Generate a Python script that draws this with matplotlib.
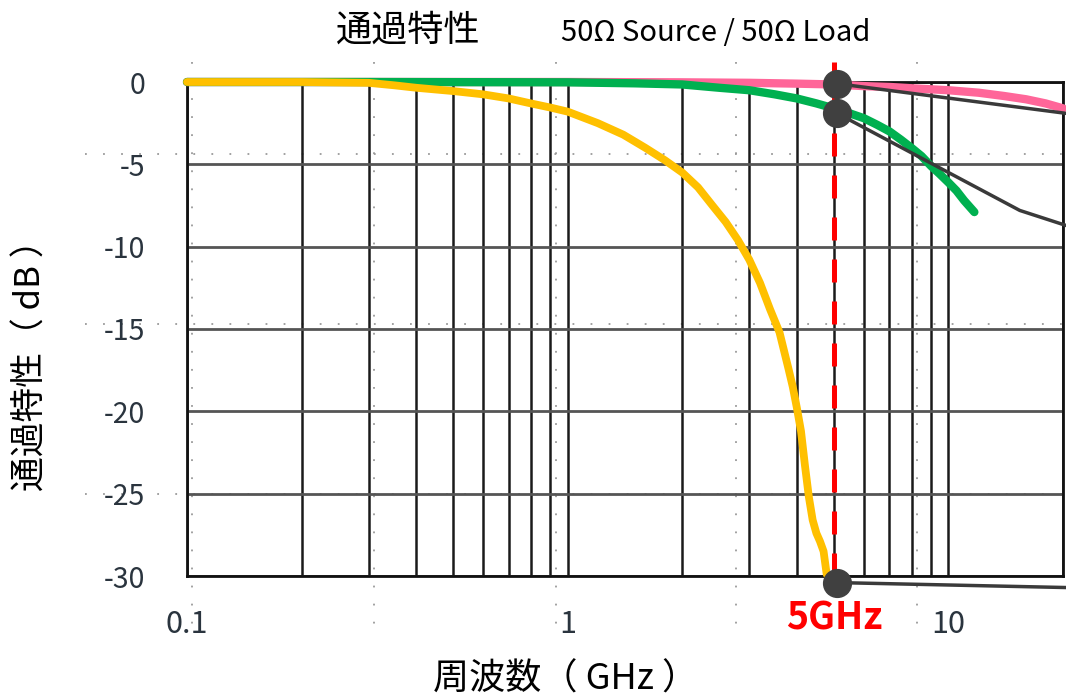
"""Transmission characteristic (S21) of three parts, 50 ohm source / 50 ohm load."""

import matplotlib
matplotlib.use("Agg")
import matplotlib.pyplot as plt
from matplotlib.lines import Line2D
from matplotlib.ticker import FixedLocator, LogLocator, NullFormatter

plt.rcParams["font.family"] = ["Noto Sans CJK JP", "DejaVu Sans"]

# --- data (GHz, dB) ---
yellow_f = [0.1, 0.2, 0.3, 0.35, 0.4, 0.5, 0.6, 0.7, 0.8, 0.9, 1.0, 1.2, 1.4, 1.6,
            1.8, 2.0, 2.2, 2.4, 2.6, 2.8, 3.0, 3.2, 3.4, 3.6, 3.8, 3.9, 4.0, 4.1,
            4.2, 4.3, 4.4, 4.5, 4.6, 4.7, 4.79]
yellow_db = [0.0, 0.0, -0.05, -0.2, -0.35, -0.55, -0.75, -1.0, -1.3, -1.55, -1.8, -2.5,
             -3.2, -4.0, -4.75, -5.5, -6.4, -7.5, -8.5, -9.6, -10.8, -12.2, -13.8, -15.2,
             -17.4, -18.5, -19.8, -21.2, -23.3, -25.2, -26.6, -27.4, -27.9, -28.5, -29.9]

green_f = [0.1, 0.3, 1.0, 1.5, 2.0, 2.5, 3.0, 3.5, 4.0, 4.5, 5.0, 5.5, 6.0, 6.5, 7.0,
           7.5, 8.0, 8.5, 9.0, 9.5, 10.0, 10.5, 11.0, 11.7]
green_db = [0.0, 0.0, -0.02, -0.08, -0.15, -0.35, -0.5, -0.75, -1.0, -1.3, -1.6, -1.9,
            -2.2, -2.6, -3.0, -3.5, -4.0, -4.5, -5.1, -5.6, -6.1, -6.6, -7.2, -7.9]

pink_f = [0.1, 1.0, 2.0, 3.0, 4.0, 5.0, 6.0, 7.0, 8.0, 10.0, 12.0, 14.0, 16.0, 18.0, 20.0]
pink_db = [0.0, 0.0, -0.02, -0.05, -0.1, -0.15, -0.25, -0.3, -0.38, -0.5, -0.65, -0.85,
           -1.05, -1.3, -1.6]

# callout markers at 5 GHz and their leader lines (running off the right edge)
marker_f = [5.1, 5.1, 5.1]
marker_db = [-0.1, -1.9, -30.4]
leader_f = [[5.1, 20.3], [5.1, 15.4, 20.3], [5.1, 20.3]]
leader_db = [[-0.1, -1.9], [-1.9, -7.8, -8.7], [-30.4, -30.7]]

cutoff_ghz = 5.0
yticks = [0, -5, -10, -15, -20, -25, -30]
xticks = [0.1, 1, 10]
xticklabels = ["0.1", "1", "10"]

TICK_INK = "#2a343e"

fig = plt.figure(figsize=(10.66, 6.99), dpi=100)
ax = fig.add_axes([187 / 1066, 1 - 576 / 699, (1063 - 187) / 1066, (576 - 82) / 699])
ax.patch.set_alpha(0)

# faint dotted grid left over from the pasted screenshot underneath
dot_style = dict(color="#9a9a9a", lw=1.3, linestyle=(0, (1, 9)), zorder=-1,
                 transform=fig.transFigure)
for ypx in [154, 324, 494]:
    fig.add_artist(Line2D([85 / 1066, 1], [1 - ypx / 699] * 2, **dot_style))
for xpx in [192, 374, 556, 736, 917]:
    fig.add_artist(Line2D([xpx / 1066] * 2, [1 - 62 / 699, 1 - 636 / 699], **dot_style))

ax.set_xscale("log")
ax.set_xlim(0.1, 20)
ax.set_ylim(-30, 0)

ax.xaxis.set_major_locator(FixedLocator(xticks))
ax.xaxis.set_minor_locator(LogLocator(base=10, subs=range(2, 10)))
ax.xaxis.set_minor_formatter(NullFormatter())
ax.set_xticklabels(xticklabels)
ax.set_yticks(yticks)
ax.set_yticklabels([str(v) for v in yticks])

ax.grid(True, which="both", axis="x", color="#1a1a1a", lw=1.8, zorder=1)
ax.grid(True, which="major", axis="y", color="#555555", lw=2.0, zorder=1)
ax.set_axisbelow(True)
ax.tick_params(which="both", length=0)
ax.tick_params(axis="y", pad=30, labelsize=20.5, labelcolor=TICK_INK)
ax.tick_params(axis="x", pad=24, labelsize=22, labelcolor=TICK_INK)
for spine in ax.spines.values():
    spine.set_linewidth(2.0)
    spine.set_color("#111111")

ax.plot(pink_f, pink_db, color="#FF6699", lw=6, solid_capstyle="round", zorder=3, clip_on=False)
ax.plot(green_f, green_db, color="#00B050", lw=6, solid_capstyle="round", zorder=4, clip_on=False)
ax.plot(yellow_f, yellow_db, color="#FFC000", lw=5.6, solid_capstyle="round", zorder=5, clip_on=False)

ax.plot([cutoff_ghz, cutoff_ghz], [-30, 1.2], color="#FF0000", lw=3.6,
        dashes=(4.6, 3.8), zorder=6, clip_on=False)

for lf, ld in zip(leader_f, leader_db):
    ax.plot(lf, ld, color="#3a3a3a", lw=2.5, zorder=7, clip_on=False)
ax.plot(marker_f, marker_db, "o", ms=20, color="#404040", zorder=8, clip_on=False)

fig.text(834 / 1066, 1 - 618 / 699, "5GHz", color="#FF0000", fontsize=27,
         fontweight="bold", ha="center", va="center")

fig.text(408 / 1066, 1 - 31 / 699, "通過特性", fontsize=26, ha="center", va="center")
fig.text(716 / 1066, 1 - 33 / 699, "50Ω Source / 50Ω Load", fontsize=21,
         ha="center", va="center")
fig.text(566 / 1066, 1 - 680 / 699, "周波数（ GHz ）", fontsize=26, ha="center", va="center")
fig.text(31 / 1066, 1 - 357 / 699, "通過特性（ dB ）", fontsize=25, rotation=90,
         ha="center", va="center")

fig.savefig("out.png", dpi=100, facecolor="white")
